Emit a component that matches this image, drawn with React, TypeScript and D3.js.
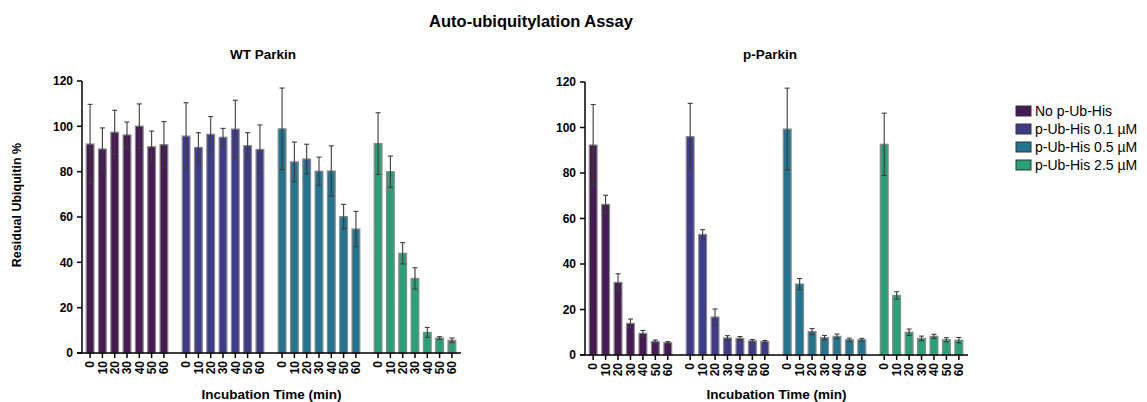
import React from "react";
import { scaleBand, scaleLinear } from "d3";

// Categories
const times = ["0", "10", "20", "30", "40", "50", "60"];
const doses = ["No p-Ub-His", "p-Ub-His 0.1 µM", "p-Ub-His 0.5 µM", "p-Ub-His 2.5 µM"];
const doseColors = ["#461a52", "#3e3c88", "#23748e", "#2aa07a"];
const yTicks = [0, 20, 40, 60, 80, 100, 120];

// WT Parkin: means and SD per dose
const wtMean = [
  [92.2, 90, 97.4, 96.2, 100.1, 91, 91.9],
  [95.7, 90.7, 96.5, 95.2, 98.8, 91.5, 89.8],
  [98.9, 84.3, 85.6, 80.2, 80.3, 60.2, 54.7],
  [92.4, 80, 44, 32.9, 9.1, 6.6, 5.6],
];
const wtSd = [
  [17.5, 9.3, 9.7, 5.7, 9.8, 6.9, 10.2],
  [14.7, 6.5, 7.8, 3.9, 12.7, 5.7, 10.8],
  [18, 8.8, 6.5, 6.2, 11.1, 5.4, 7.8],
  [13.6, 6.9, 4.7, 4.7, 2.2, 0.6, 1],
];

// p-Parkin: means and SD per dose
const pMean = [
  [92.3, 66.2, 31.9, 13.9, 9.5, 5.9, 5.4],
  [96, 53, 16.7, 7.5, 7.3, 6.2, 5.9],
  [99.3, 31.2, 10.3, 7.6, 8.2, 6.7, 6.7],
  [92.6, 26.2, 10, 7.3, 8.2, 6.7, 6.5],
];
const pSd = [
  [17.8, 4, 3.8, 1.9, 1.3, 0.7, 0.5],
  [14.6, 2.1, 3.5, 1, 0.8, 0.6, 0.5],
  [18, 2.4, 1.3, 1, 1, 0.7, 0.6],
  [13.7, 1.6, 1.4, 1, 0.9, 0.9, 1.2],
];

const font = "'Liberation Sans', Arial, sans-serif";

interface PanelProps {
  title: string;
  titleX: number;
  means: number[][];
  sds: number[][];
  x0: number;
  x1: number;
  yBottom: number;
  yTop: number;
}

const Panel: React.FC<PanelProps> = ({ title, titleX, means, sds, x0, x1, yBottom, yTop }) => {
  const y = scaleLinear().domain([0, 120]).range([yBottom, yTop]);
  const outer = scaleBand<number>()
    .domain([0, 1, 2, 3])
    .range([x0 + 2, x1 - 3])
    .paddingInner(0.104)
    .paddingOuter(0);
  const inner = scaleBand<string>()
    .domain(times)
    .range([0, outer.bandwidth()])
    .paddingInner(0.37)
    .paddingOuter(0.18);
  const bw = inner.bandwidth();
  const cx = (x0 + x1) / 2;

  return (
    <g>
      <text x={titleX} y={59} textAnchor="middle" fontWeight="bold" fontSize={13.5}>
        {title}
      </text>
      {/* bars */}
      {means.map((series, g) =>
        series.map((v, i) => {
          const bx = outer(g)! + inner(times[i])!;
          return (
            <rect
              key={`b-${g}-${i}`}
              x={bx}
              y={y(v)}
              width={bw}
              height={y(0) - y(v)}
              fill={doseColors[g]}
              stroke="#8a8a8a"
              strokeWidth={1.2}
            />
          );
        })
      )}
      {/* error bars */}
      {means.map((series, g) =>
        series.map((v, i) => {
          const c = outer(g)! + inner(times[i])! + bw / 2;
          const hi = y(v + sds[g][i]);
          const lo = y(v - sds[g][i]);
          return (
            <g key={`e-${g}-${i}`} stroke="#3c3c3c" strokeWidth={1.1}>
              <line x1={c} x2={c} y1={hi} y2={lo} />
              <line x1={c - 2.5} x2={c + 2.5} y1={hi} y2={hi} />
              <line x1={c - 2.5} x2={c + 2.5} y1={lo} y2={lo} />
            </g>
          );
        })
      )}
      {/* y axis */}
      <line x1={x0} x2={x0} y1={yTop} y2={yBottom} stroke="#000" strokeWidth={1.5} />
      {yTicks.map((t) => (
        <g key={`yt-${t}`}>
          <line x1={x0 - 5} x2={x0} y1={y(t)} y2={y(t)} stroke="#000" strokeWidth={1.5} />
          <text
            x={x0 - 9}
            y={y(t)}
            dy="0.35em"
            textAnchor="end"
            fontWeight="bold"
            fontSize={12}
          >
            {t}
          </text>
        </g>
      ))}
      {/* x axis */}
      <line x1={x0 - 5} x2={x1} y1={yBottom} y2={yBottom} stroke="#000" strokeWidth={1.5} />
      {means.map((_, g) =>
        times.map((t) => {
          const c = outer(g)! + inner(t)! + bw / 2;
          return (
            <g key={`xt-${g}-${t}`}>
              <line x1={c} x2={c} y1={yBottom} y2={yBottom + 5} stroke="#000" strokeWidth={1.5} />
              <text
                transform={`translate(${c},${yBottom + 8}) rotate(-90)`}
                dy="0.35em"
                textAnchor="end"
                fontWeight="bold"
                fontSize={12}
              >
                {t}
              </text>
            </g>
          );
        })
      )}
      <text x={cx} y={399} textAnchor="middle" fontWeight="bold" fontSize={13.5}>
        Incubation Time (min)
      </text>
    </g>
  );
};

export default function App() {
  const width = 1147;
  const height = 402;
  return (
    <svg
      width={width}
      height={height}
      style={{ position: "absolute", left: 0, top: 0, background: "#fff" }}
      fontFamily={font}
    >
      <text x={531} y={27} textAnchor="middle" fontWeight="bold" fontSize={16.5}>
        Auto-ubiquitylation Assay
      </text>
      <text
        transform="translate(21,205) rotate(-90)"
        textAnchor="middle"
        fontWeight="bold"
        fontSize={12.5}
      >
        Residual Ubiquitin %
      </text>
      <Panel title="WT Parkin" titleX={263} means={wtMean} sds={wtSd} x0={82} x1={461} yBottom={353} yTop={81} />
      <Panel title="p-Parkin" titleX={770} means={pMean} sds={pSd} x0={585} x1={968} yBottom={355} yTop={82} />
      {/* legend */}
      <g transform="translate(1016,106)">
        {doses.map((d, i) => (
          <g key={d} transform={`translate(0,${i * 18})`}>
            <rect x={0} y={0} width={15} height={10} fill={doseColors[i]} stroke="#333" strokeWidth={1} />
            <text x={19} y={5} dy="0.35em" fontSize={14}>
              {d}
            </text>
          </g>
        ))}
      </g>
    </svg>
  );
}
